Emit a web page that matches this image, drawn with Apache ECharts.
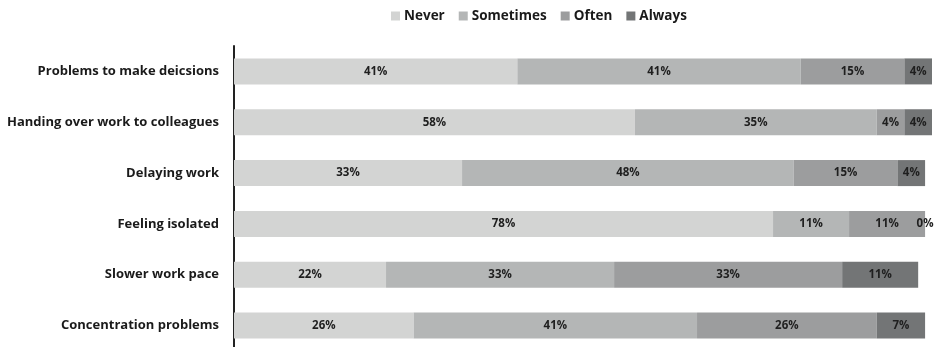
<!DOCTYPE html>
<html><head><meta charset="utf-8">
<script src="https://cdn.jsdelivr.net/npm/echarts@6/dist/echarts.min.js"></script>
<style>html,body{margin:0;padding:0;background:#fff}#c{width:936px;height:347px}</style>
</head><body><div id="c"></div>
<script>
const categories = ["Problems to make deicsions","Handing over work to colleagues","Delaying work","Feeling isolated","Slower work pace","Concentration problems"];
const seriesNames = ["Never","Sometimes","Often","Always"];
const never = [41,58,33,78,22,26];
const sometimes = [41,35,48,11,33,41];
const often = [15,4,15,11,33,26];
const always = [4,4,4,0,11,7];
const colors = ["#d3d4d3","#b4b6b6","#9c9d9e","#737576"];

const values = [never, sometimes, often, always];
const chart = echarts.init(document.getElementById('c'));
const FONT = 'Open Sans';
chart.setOption({
  animation: false,
  textStyle: {fontFamily: FONT},
  legend: {
    top: 4, left: 386,
    itemWidth: 9, itemHeight: 9, itemGap: 14,
    icon: 'rect',
    textStyle: {fontFamily: FONT, fontWeight: 'bold', fontSize: 13.5, color: '#1a1a1a', padding: [0,0,0,-1]},
    data: seriesNames
  },
  grid: {left: 234, top: 46, width: 698, height: 305, containLabel: false, outerBoundsMode: 'none'},
  xAxis: {type: 'value', min: 0, max: 101, show: false},
  yAxis: {
    type: 'category', data: categories, inverse: true,
    axisLine: {show: true, lineStyle: {color: '#222', width: 2}},
    axisTick: {show: false},
    axisLabel: {fontFamily: FONT, fontWeight: 'bold', fontSize: 13, color: '#1a1a1a', margin: 15}
  },
  series: seriesNames.map((n, i) => ({
    name: n, type: 'bar', stack: 'total', barWidth: 26,
    itemStyle: {color: colors[i]},
    label: {show: true, position: 'inside', formatter: '{c}%', fontFamily: FONT, fontWeight: 'bold', fontSize: 11.5, color: '#1f1f1f'},
    data: values[i]
  }))
});
</script></body></html>
